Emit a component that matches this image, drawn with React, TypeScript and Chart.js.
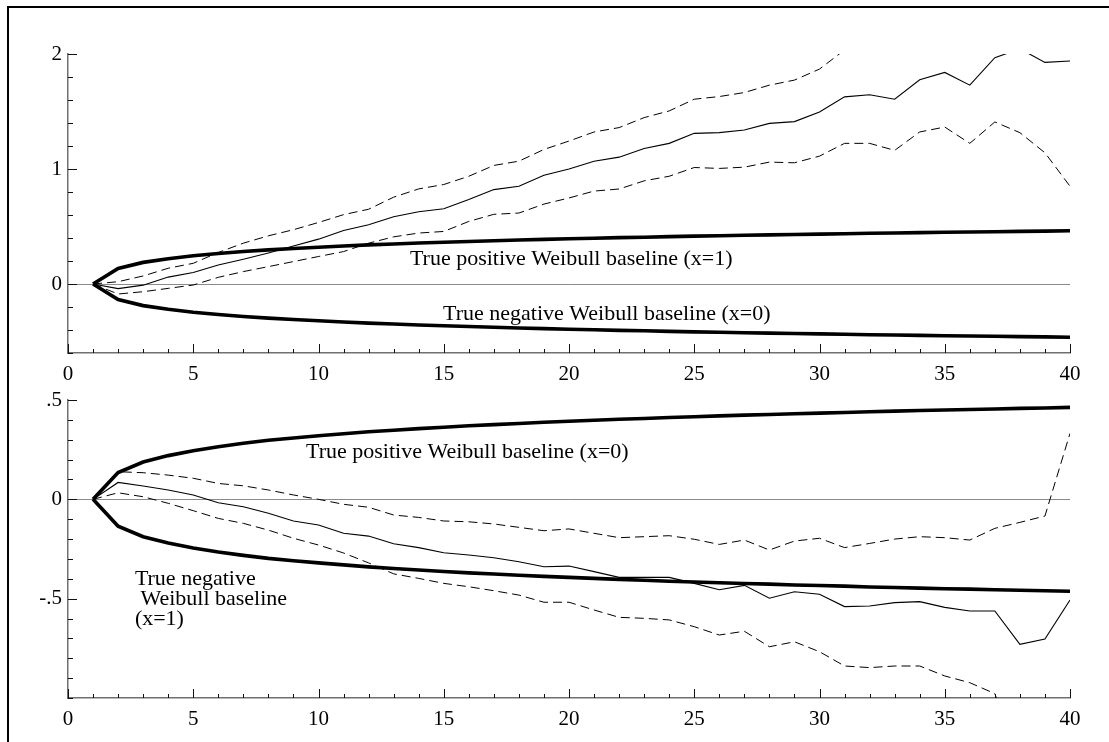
import React, { useEffect, useRef } from 'react';
import { Chart, registerables } from 'chart.js';

Chart.register(...registerables);

// ---------- data ----------
const periods = [
  1, 2, 3, 4, 5, 6, 7, 8, 9, 10, 11, 12, 13, 14, 15, 16, 17, 18, 19, 20,
  21, 22, 23, 24, 25, 26, 27, 28, 29, 30, 31, 32, 33, 34, 35, 36, 37, 38, 39, 40,
];

// true Weibull baselines (thick curves)
const weibullPositive = [
  0, 0.135, 0.188, 0.22, 0.245, 0.265, 0.282, 0.297, 0.309, 0.32,
  0.33, 0.34, 0.348, 0.356, 0.363, 0.37, 0.376, 0.382, 0.388, 0.393,
  0.398, 0.403, 0.407, 0.412, 0.416, 0.42, 0.424, 0.427, 0.431, 0.434,
  0.437, 0.441, 0.444, 0.447, 0.45, 0.452, 0.455, 0.458, 0.46, 0.463,
];
const weibullNegative = [
  0, -0.135, -0.188, -0.22, -0.245, -0.265, -0.282, -0.297, -0.309, -0.32,
  -0.33, -0.34, -0.348, -0.356, -0.363, -0.37, -0.376, -0.382, -0.388, -0.393,
  -0.398, -0.403, -0.407, -0.412, -0.416, -0.42, -0.424, -0.427, -0.431, -0.434,
  -0.437, -0.441, -0.444, -0.447, -0.45, -0.452, -0.455, -0.458, -0.46, -0.463,
];

// upper panel: estimate and confidence band
const topEstimate = [
  0, -0.04, -0.01, 0.06, 0.1, 0.165, 0.215, 0.27, 0.33, 0.39,
  0.465, 0.515, 0.585, 0.628, 0.655, 0.734, 0.821, 0.85, 0.946, 1.0,
  1.068, 1.103, 1.179, 1.223, 1.31, 1.316, 1.339, 1.397, 1.412, 1.496,
  1.627, 1.645, 1.607, 1.776, 1.84, 1.729, 1.968, 2.045, 1.927, 1.939,
];
const topUpper = [
  0, 0.02, 0.07, 0.137, 0.18, 0.274, 0.355, 0.419, 0.472, 0.535,
  0.603, 0.65, 0.755, 0.827, 0.865, 0.937, 1.031, 1.068, 1.17, 1.243,
  1.322, 1.36, 1.447, 1.505, 1.607, 1.63, 1.665, 1.729, 1.773, 1.869,
  2.035, 2.067, 2.052, 2.23, 2.315, 2.235, 2.527, 2.774, 2.713, 3.028,
];
const topLower = [
  0, -0.087, -0.067, -0.038, -0.009, 0.058, 0.108, 0.151, 0.195, 0.239,
  0.282, 0.355, 0.41, 0.443, 0.457, 0.544, 0.606, 0.617, 0.695, 0.748,
  0.808, 0.826, 0.897, 0.937, 1.013, 1.005, 1.016, 1.06, 1.054, 1.112,
  1.223, 1.223, 1.162, 1.322, 1.365, 1.223, 1.409, 1.316, 1.141, 0.85,
];

// lower panel: estimate and confidence band
const bottomEstimate = [
  0, 0.085, 0.067, 0.047, 0.022, -0.017, -0.037, -0.07, -0.109, -0.129,
  -0.171, -0.185, -0.224, -0.243, -0.269, -0.28, -0.294, -0.314, -0.339, -0.336,
  -0.364, -0.393, -0.393, -0.393, -0.423, -0.455, -0.433, -0.498, -0.465, -0.478,
  -0.54, -0.537, -0.52, -0.515, -0.544, -0.562, -0.562, -0.73, -0.703, -0.507,
];
const bottomUpper = [
  0, 0.139, 0.134, 0.122, 0.106, 0.08, 0.068, 0.047, 0.022, 0,
  -0.025, -0.04, -0.079, -0.091, -0.109, -0.113, -0.124, -0.141, -0.158, -0.149,
  -0.171, -0.193, -0.188, -0.183, -0.201, -0.227, -0.205, -0.255, -0.21, -0.196,
  -0.243, -0.222, -0.2, -0.188, -0.193, -0.205, -0.146, -0.116, -0.084, 0.332,
];
const bottomLower = [
  0, 0.033, 0.013, -0.02, -0.057, -0.096, -0.121, -0.155, -0.196, -0.23,
  -0.27, -0.32, -0.375, -0.398, -0.423, -0.44, -0.46, -0.482, -0.518, -0.518,
  -0.557, -0.594, -0.599, -0.607, -0.641, -0.683, -0.664, -0.742, -0.717, -0.767,
  -0.839, -0.847, -0.839, -0.839, -0.889, -0.923, -0.978, -1.344, -1.322, -1.346,
];

// tick labels
const xTickValues = [0, 5, 10, 15, 20, 25, 30, 35, 40];
const xTickLabels = ['0', '5', '10', '15', '20', '25', '30', '35', '40'];
const topYTickValues = [0, 1, 2];
const topYTickLabels = ['0', '1', '2'];
const bottomYTickValues = [0.5, 0, -0.5];
const bottomYTickLabels = ['.5', '0', '-.5'];

// text notes (anchored in data units)
const topNotes = [
  { lines: ['True positive Weibull baseline (x=1)'], t: 13.65, v: 0.166 },
  { lines: ['True negative Weibull baseline (x=0)'], t: 14.97, v: -0.313 },
];
const bottomNotes = [
  { lines: ['True positive Weibull baseline (x=0)'], t: 9.5, v: 0.208 },
  { lines: ['True negative', ' Weibull baseline', '(x=1)'], t: 2.67, v: -0.432 },
];

// ---------- styling ----------
const FONT_FAMILY = "'Liberation Serif', 'Times New Roman', Times, serif";

const lookupLabel = (values: number[], labels: string[], v: number) => {
  for (let i = 0; i < values.length; i++) {
    if (Math.abs(values[i] - v) < 1e-7) return labels[i];
  }
  return '';
};

const innerTicksPlugin = {
  id: 'innerTicks',
  afterDraw(chart: any) {
    const { ctx, chartArea } = chart;
    const xs = chart.scales.x;
    const ys = chart.scales.y;
    ctx.save();
    ctx.strokeStyle = '#111';
    ctx.lineWidth = 1;
    for (const tk of ys.ticks) {
      const py = Math.round(ys.getPixelForValue(tk.value)) + 0.5;
      const len = tk.label !== '' ? 9 : 5;
      ctx.beginPath();
      ctx.moveTo(chartArea.left, py);
      ctx.lineTo(chartArea.left + len, py);
      ctx.stroke();
    }
    for (const tk of xs.ticks) {
      const px = Math.round(xs.getPixelForValue(tk.value)) + 0.5;
      const len = tk.label !== '' ? 9 : 4;
      ctx.beginPath();
      ctx.moveTo(px, chartArea.bottom);
      ctx.lineTo(px, chartArea.bottom - len);
      ctx.stroke();
    }
    ctx.restore();
  },
};

const notesPlugin = {
  id: 'notes',
  afterDatasetsDraw(chart: any, _args: any, opts: any) {
    const { ctx } = chart;
    const xs = chart.scales.x;
    const ys = chart.scales.y;
    ctx.save();
    ctx.font = `22px ${FONT_FAMILY}`;
    ctx.fillStyle = '#000';
    ctx.textAlign = 'left';
    ctx.textBaseline = 'alphabetic';
    for (const note of opts.items || []) {
      const px = xs.getPixelForValue(note.t);
      const py = ys.getPixelForValue(note.v);
      note.lines.forEach((line: string, i: number) => {
        ctx.fillText(line, px, py + i * 20);
      });
    }
    ctx.restore();
  },
};

const toPoints = (vals: number[]) => periods.map((t, i) => ({ x: t, y: vals[i] }));

function buildConfig(p: {
  estimate: number[];
  upper: number[];
  lower: number[];
  yMin: number;
  yMax: number;
  yStep: number;
  yTickValues: number[];
  yTickLabels: string[];
  notes: any[];
  padTop: number;
  xHeight: number;
}) {
  const thick = { borderColor: '#000', borderWidth: 3.6, pointRadius: 0, tension: 0, fill: false };
  const thin = { borderColor: '#000', borderWidth: 1, pointRadius: 0, tension: 0, fill: false };
  return {
    type: 'line',
    data: {
      datasets: [
        { ...thin, label: 'upper', data: toPoints(p.upper), borderDash: [9, 5] },
        { ...thin, label: 'lower', data: toPoints(p.lower), borderDash: [9, 5] },
        { ...thin, label: 'estimate', data: toPoints(p.estimate), borderWidth: 1.1 },
        { ...thick, label: 'positive baseline', data: toPoints(weibullPositive) },
        { ...thick, label: 'negative baseline', data: toPoints(weibullNegative) },
      ],
    },
    options: {
      animation: false,
      responsive: false,
      events: [],
      layout: { padding: { top: p.padTop, left: 0, right: 39, bottom: 0 } },
      plugins: {
        legend: { display: false },
        tooltip: { enabled: false },
        notes: { items: p.notes },
      },
      scales: {
        x: {
          type: 'linear',
          min: 0,
          max: 40,
          ticks: {
            stepSize: 1,
            autoSkip: false,
            maxRotation: 0,
            minRotation: 0,
            padding: 9,
            color: '#000',
            font: { family: FONT_FAMILY, size: 21 },
            callback: (v: number) => lookupLabel(xTickValues, xTickLabels, v),
          },
          grid: { display: false, drawTicks: false },
          border: { display: true, color: '#707070', width: 1.5 },
          afterFit: (s: any) => {
            s.height = p.xHeight;
          },
        },
        y: {
          type: 'linear',
          min: p.yMin,
          max: p.yMax,
          ticks: {
            stepSize: p.yStep,
            autoSkip: false,
            padding: 6,
            color: '#000',
            font: { family: FONT_FAMILY, size: 21 },
            callback: (v: number) => lookupLabel(p.yTickValues, p.yTickLabels, v),
          },
          grid: {
            display: true,
            drawTicks: false,
            lineWidth: 1,
            color: (c: any) =>
              c.tick && Math.abs(c.tick.value) < 1e-7 ? '#8a8a8a' : 'rgba(0,0,0,0)',
          },
          border: { display: true, color: '#707070', width: 1.5 },
          afterFit: (s: any) => {
            s.width = 68;
          },
        },
      },
    },
    plugins: [innerTicksPlugin, notesPlugin],
  };
}

function Panel(props: { top: number; height: number; config: any }) {
  const ref = useRef<HTMLCanvasElement | null>(null);
  useEffect(() => {
    if (!ref.current) return;
    const chart = new Chart(ref.current, props.config);
    return () => chart.destroy();
  }, []);
  return (
    <canvas
      ref={ref}
      width={1109}
      height={props.height}
      style={{ position: 'absolute', left: 0, top: props.top, width: 1109, height: props.height }}
    />
  );
}

export default function App() {
  const topConfig = buildConfig({
    estimate: topEstimate,
    upper: topUpper,
    lower: topLower,
    yMin: -0.6,
    yMax: 2,
    yStep: 0.2,
    yTickValues: topYTickValues,
    yTickLabels: topYTickLabels,
    notes: topNotes,
    padTop: 54,
    xHeight: 42,
  });
  const bottomConfig = buildConfig({
    estimate: bottomEstimate,
    upper: bottomUpper,
    lower: bottomLower,
    yMin: -1,
    yMax: 0.5,
    yStep: 0.1,
    yTickValues: bottomYTickValues,
    yTickLabels: bottomYTickLabels,
    notes: bottomNotes,
    padTop: 30,
    xHeight: 44,
  });
  return (
    <div
      style={{
        position: 'absolute',
        left: 0,
        top: 0,
        width: 1109,
        height: 742,
        overflow: 'hidden',
        background: '#fff',
      }}
    >
      <div
        style={{
          position: 'absolute',
          left: 7,
          top: 6,
          width: 1102,
          height: 736,
          boxSizing: 'border-box',
          borderTop: '2px solid #000',
          borderLeft: '2px solid #000',
        }}
      />
      <Panel top={0} height={395} config={topConfig} />
      <Panel top={370} height={372} config={bottomConfig} />
    </div>
  );
}
